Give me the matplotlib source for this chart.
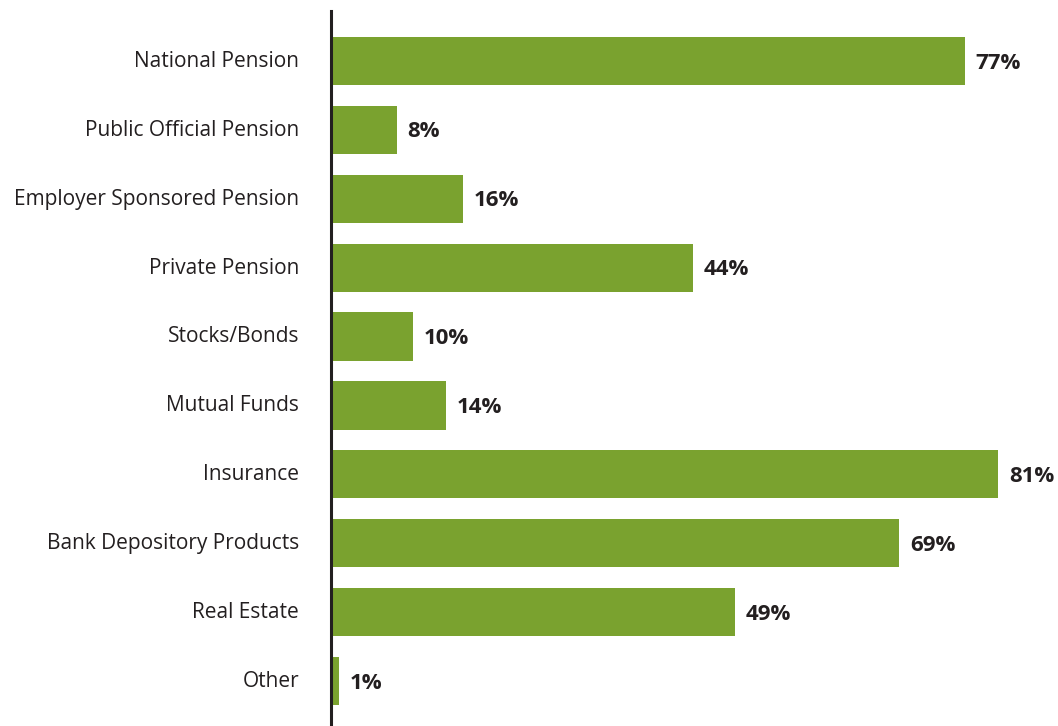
import matplotlib.pyplot as plt

categories = ['National Pension', 'Public Official Pension', 'Employer Sponsored Pension',
              'Private Pension', 'Stocks/Bonds', 'Mutual Funds', 'Insurance',
              'Bank Depository Products', 'Real Estate', 'Other']
values = [77, 8, 16, 44, 10, 14, 81, 69, 49, 1]

green = '#7aa22f'
dark = '#231f20'

plt.rcParams['font.family'] = ['Open Sans', 'DejaVu Sans']

fig = plt.figure(figsize=(10.58, 7.26), dpi=100)
W, H = 1058, 726
ax = fig.add_axes([331 / W, 0, 700 / W, (726 - 11) / H])

pos = list(range(len(categories)))
ax.barh(pos, values, height=0.7, color=green)
for p, v in zip(pos, values):
    ax.text(v + 1.3, p + 0.03, f'{v}%', va='center', ha='left',
            fontsize=16, fontweight='bold', color=dark)

ax.set_xlim(0, 85)
ax.set_ylim(9.652, -0.725)
ax.set_yticks([p - 0.03 for p in pos])
ax.set_yticklabels(categories, fontsize=15, color=dark)
ax.tick_params(axis='y', length=0, pad=23)
ax.set_xticks([])
for s in ['top', 'right', 'bottom']:
    ax.spines[s].set_visible(False)
ax.spines['left'].set_linewidth(2.2)
ax.spines['left'].set_color(dark)

fig.savefig('out.png', dpi=100)
